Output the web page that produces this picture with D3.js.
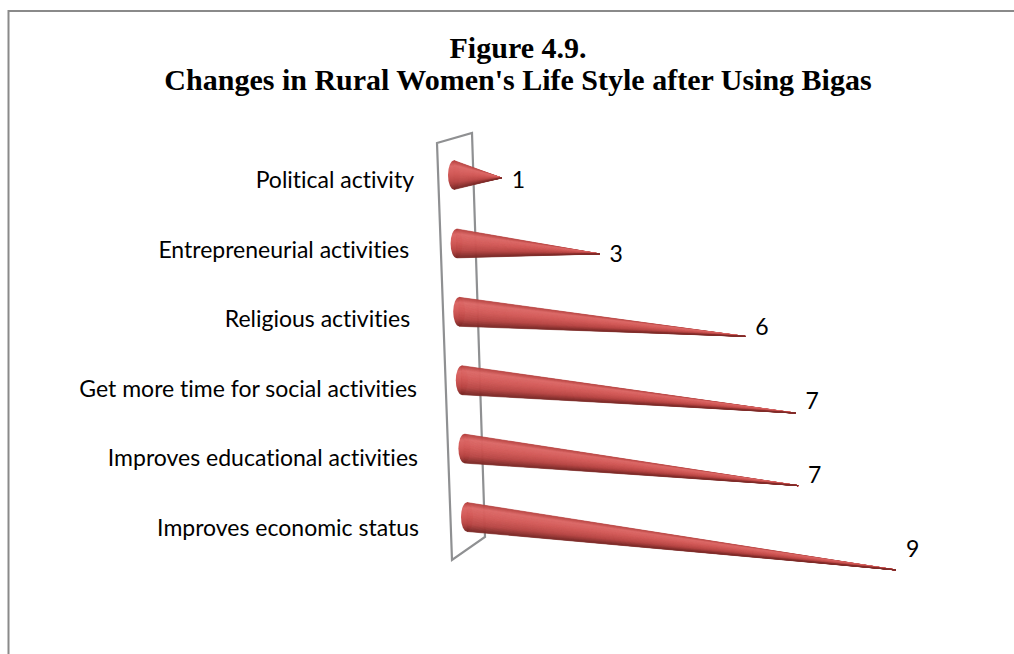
<!DOCTYPE html>
<html>
<head>
<meta charset="utf-8">
<script src="https://cdn.jsdelivr.net/npm/d3@7"></script>
<style>
  html, body { margin: 0; padding: 0; background: #fff; }
  svg { display: block; }
  .cat, .val { font-family: Lato, "Open Sans", sans-serif; font-size: 23px; fill: #000;
               font-variant-ligatures: none; font-feature-settings: "liga" 0; }
  .cat { white-space: pre; }
  .title { font-family: "Liberation Serif", "Times New Roman", serif; font-weight: bold; font-size: 30px; fill: #000; }
</style>
</head>
<body>
<script>
// Categories, top to bottom, and their counts
const categories = [
  "Political activity",
  "Entrepreneurial activities ",
  "Religious activities ",
  "Get more time for social activities",
  "Improves educational activities",
  "Improves economic status"
];
const values = [1, 3, 6, 7, 7, 9];
const titleLines = ["Figure 4.9.", "Changes in Rural Women's Life Style after Using Bigas"];

const W = 1014, H = 654;
const svg = d3.select("body").append("svg").attr("width", W).attr("height", H);

// Chart frame
svg.append("rect")
  .attr("x", 8.5).attr("y", 11).attr("width", 1030).attr("height", 700)
  .attr("fill", "none").attr("stroke", "#8a8a8a").attr("stroke-width", 2);

// Title
svg.selectAll("text.title").data(titleLines).enter().append("text")
  .attr("class", "title")
  .attr("x", 518).attr("y", (d, i) => 58 + i * 32)
  .attr("text-anchor", "middle")
  .text(d => d);

// Scales
const yBase = d3.scalePoint().domain(categories).range([175, 517]);   // cone axis height at the base
const xBase = d3.scaleLinear().domain([0, categories.length - 1]).range([454, 467]); // base slides with the wall
const len = d3.scaleLinear().domain([0, 9]).range([0, 429]);           // cone length per value
const labelX = d3.scaleLinear().domain([0, categories.length - 1]).range([414, 419]);

// Perspective: cone axes fan out from a far-left vanishing point
const vp = { x: -5000, y: -158 };
const slope = (bx, by) => (by - vp.y) / (bx - vp.x);

// Back wall outline of the 3D plot
const wall = [[437, 143], [472, 133], [485, 537], [452, 560]];
svg.append("path")
  .attr("d", d3.line()(wall) + "Z")
  .attr("fill", "none").attr("stroke", "#8f9092").attr("stroke-width", 2.2)
  .attr("stroke-linejoin", "miter");

// Shading across the cone surface, top edge (0) to bottom edge (1)
const shade = d3.scaleLinear()
  .domain([0, 0.18, 0.45, 0.75, 1])
  .range(["#b4403e", "#dc6a68", "#d35b59", "#b94745", "#7a2a28"])
  .interpolate(d3.interpolateRgb);

const defs = svg.append("defs");
const R = 14.5, RX = 6, STRIPS = 40;

const cones = svg.append("g");
categories.forEach((cat, i) => {
  const v = values[i];
  const bx = xBase(i), by = yBase(cat);
  const L = len(v);
  const tx = bx + L, ty = by + L * slope(bx, by);

  // base cap
  const gid = "capGrad" + i;
  const g = defs.append("linearGradient").attr("id", gid)
    .attr("gradientUnits", "userSpaceOnUse")
    .attr("x1", bx).attr("y1", by - R).attr("x2", bx).attr("y2", by + R);
  d3.range(0, 1.0001, 0.1).forEach(t => {
    g.append("stop").attr("offset", t).attr("stop-color", shade(t));
  });
  cones.append("ellipse")
    .attr("cx", bx).attr("cy", by).attr("rx", RX).attr("ry", R)
    .attr("fill", `url(#${gid})`);

  // cone body as thin strips meeting at the tip
  const strips = d3.range(STRIPS).map(k => [k / STRIPS, (k + 1) / STRIPS]);
  cones.selectAll(null).data(strips).enter().append("path")
    .attr("d", ([a, b]) => d3.line()([[tx, ty], [bx, by - R + 2 * R * a], [bx, by - R + 2 * R * b]]) + "Z")
    .attr("fill", ([a, b]) => shade((a + b) / 2))
    .attr("stroke", ([a, b]) => shade((a + b) / 2))
    .attr("stroke-width", 0.6)
    .attr("stroke-linejoin", "round");

  // value label at the tip
  svg.append("text").attr("class", "val")
    .attr("x", tx + 10).attr("y", by + 13 + i * 5.3)
    .text(v);

  // category label
  svg.append("text").attr("class", "cat")
    .attr("x", labelX(i)).attr("y", by + 13 + i * 1.2)
    .attr("text-anchor", "end")
    .text(cat);
});
</script>
</body>
</html>
